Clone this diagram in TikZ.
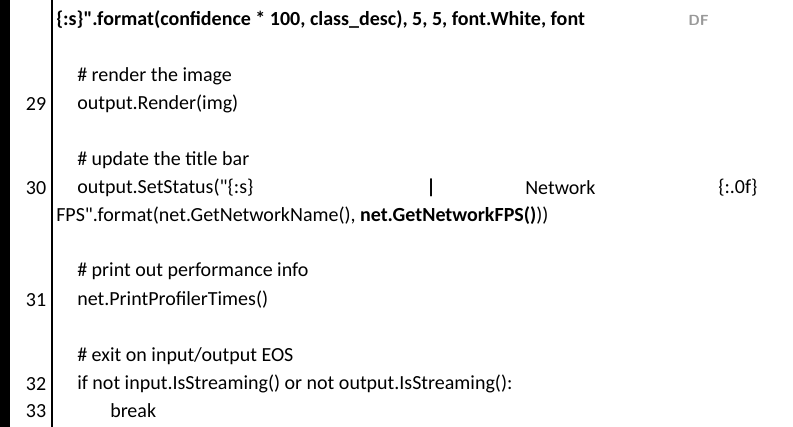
\documentclass[tikz,border=0pt]{standalone}
\usepackage{fontspec}
\setmainfont{Carlito}[Ligatures=TeXOff]
\newcommand{\dq}{\char34\relax}
\begin{document}
\begin{tikzpicture}[x=0.75pt,y=-0.75pt,
  t/.style={anchor=west,inner sep=0pt,font=\fontsize{15pt}{17pt}\selectfont},
  n/.style={anchor=center,inner sep=0pt,font=\fontsize{15pt}{17pt}\selectfont}]
\useasboundingbox (0,0) rectangle (793,427);
\fill[black] (0,0) rectangle (10,427);
\draw[line width=0.9pt] (52,0) -- (52,427);
\begin{scope}
\clip (0,0) rectangle (622,40);
\node[t,font=\fontsize{15pt}{17pt}\selectfont\bfseries] (l0) at (56,20) {\{:s\}\dq.format(confidence * 100, class\_desc), 5, 5, font.White, font};
\end{scope}
\node[anchor=west,inner sep=0pt,text=gray!80,font=\sffamily\bfseries\fontsize{11pt}{12pt}\selectfont] (df) at (688,20) {DF};
\node[t] (c1) at (77,76) {\# render the image};
\node[t] (s29) at (77,104) {output.Render(img)};
\node[n] (n29) at (36,104) {29};
\node[t] (c2) at (77,160) {\# update the title bar};
\node[t] (s30) at (77,188) {output.SetStatus(\dq\{:s\}};
\node[t] (p1) at (426,188) {\textbf{|}};
\node[t] (p2) at (525,188) {Network};
\node[t] (p3) at (718,188) {\{:.0f\}};
\node[n] (n30) at (36,188) {30};
\node[t] (s30b) at (56,216) {FPS\dq.format(net.GetNetworkName(), \textbf{net.GetNetworkFPS()}))};
\node[t] (c3) at (77,271) {\# print out performance info};
\node[t] (s31) at (77,300) {net.PrintProfilerTimes()};
\node[n] (n31) at (36,300) {31};
\node[t] (c4) at (77,356) {\# exit on input/output EOS};
\node[t] (s32) at (77,384) {if not input.IsStreaming() or not output.IsStreaming():};
\node[n] (n32) at (36,384) {32};
\node[t] (s33) at (110,411) {break};
\node[n] (n33) at (36,411) {33};
\end{tikzpicture}
\end{document}
